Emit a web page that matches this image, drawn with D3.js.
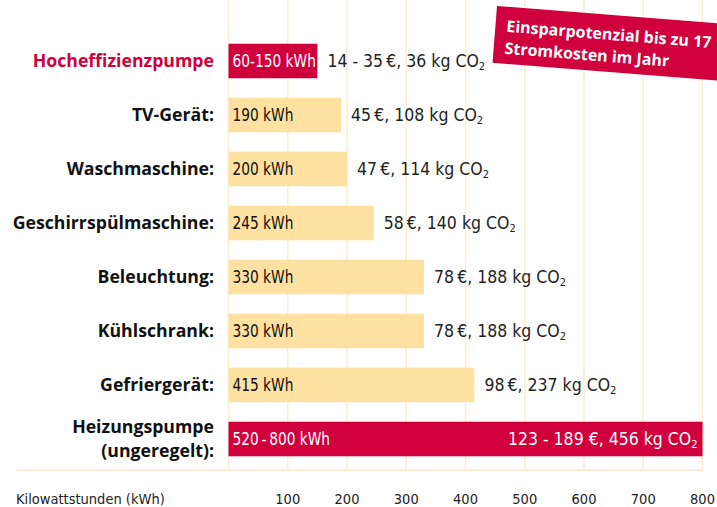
<!DOCTYPE html>
<html>
<head>
<meta charset="utf-8">
<script src="https://cdn.jsdelivr.net/npm/d3@7"></script>
<style>
  body { margin: 0; background: #fff; }
  svg { display: block; }
  .label { font-family: 'Open Sans', 'Noto Sans', sans-serif; font-weight: 700; font-size: 17.7px; }
  .cond { font-family: 'DejaVu Sans Condensed', 'DejaVu Sans', sans-serif; font-size: 17.5px; }
  .inner { font-family: 'DejaVu Sans Condensed', 'DejaVu Sans', sans-serif; font-size: 17px; }
  .tick-label { font-family: 'DejaVu Sans Condensed', 'DejaVu Sans', sans-serif; font-size: 14.5px; fill: #222; }
</style>
</head>
<body>
<svg id="chart"></svg>
<script>
// Stromverbrauch von Haushaltsgeräten pro Jahr (kWh)
const devices = ['Hocheffizienzpumpe', 'TV-Gerät:', 'Waschmaschine:', 'Geschirrspülmaschine:',
  'Beleuchtung:', 'Kühlschrank:', 'Gefriergerät:', 'Heizungspumpe|(ungeregelt):'];
const kwh = [150, 190, 200, 245, 330, 330, 415, 800];
const kwhLabels = ['60-150 kWh', '190 kWh', '200 kWh', '245 kWh', '330 kWh', '330 kWh', '415 kWh', '520\u2009-\u2009800 kWh'];
const costs = ['14 - 35\u2009€', '45\u2009€', '47\u2009€', '58\u2009€', '78\u2009€', '78\u2009€', '98\u2009€', '123 - 189 €'];
const co2 = [36, 108, 114, 140, 188, 188, 237, 456];
const highlight = [true, false, false, false, false, false, false, true];
const ticks = [100, 200, 300, 400, 500, 600, 700, 800];
const bannerLines = ['Einsparpotenzial bis zu 17', 'Stromkosten im Jahr'];

const red = '#d0003c';
const light = '#fee0a0';
const grid = '#fdedd3';

const width = 717;
const height = 507;

const svg = d3.select('#chart')
  .attr('width', width)
  .attr('height', height);

const xScale = d3.scaleLinear()
  .domain([0, 800])
  .range([228.5, 702.5]);

const yScale = d3.scaleBand()
  .domain(d3.range(devices.length))
  .range([34, 466])
  .paddingInner(0.36)
  .paddingOuter(0.18);

const yMid = (i) => yScale(i) + yScale.bandwidth() / 2;

// vertical gridlines
svg.append('g')
  .selectAll('line')
  .data([0, ...ticks])
  .join('line')
  .attr('x1', (d) => xScale(d))
  .attr('x2', (d) => xScale(d))
  .attr('y1', 0)
  .attr('y2', 470)
  .attr('stroke', grid)
  .attr('stroke-width', 1.5);

// baseline
svg.append('line')
  .attr('x1', 16)
  .attr('x2', xScale(800))
  .attr('y1', 470)
  .attr('y2', 470)
  .attr('stroke', grid)
  .attr('stroke-width', 2);

// bars
svg.append('g')
  .selectAll('rect')
  .data(kwh)
  .join('rect')
  .attr('x', xScale(0))
  .attr('y', (d, i) => yScale(i))
  .attr('width', (d) => xScale(d) - xScale(0))
  .attr('height', yScale.bandwidth())
  .attr('fill', (d, i) => (highlight[i] ? red : light));

// category labels, one text per line ('|' splits a label into two lines)
const labelLines = [];
devices.forEach((d, i) => {
  const parts = d.split('|');
  parts.forEach((p, j) => {
    const offset = parts.length === 1 ? 0 : (j - 0.5) * 24;
    labelLines.push({ text: p, row: i, offset });
  });
});

svg.append('g')
  .selectAll('text')
  .data(labelLines)
  .join('text')
  .attr('class', 'label')
  .attr('x', 214)
  .attr('y', (d) => yMid(d.row) + d.offset)
  .attr('dy', '0.36em')
  .attr('text-anchor', 'end')
  .attr('fill', (d) => (d.row === 0 ? red : '#111'))
  .text((d) => d.text);

// kWh labels inside bars (squeezed horizontally like a condensed face)
svg.append('g')
  .selectAll('text')
  .data(kwhLabels)
  .join('text')
  .attr('class', 'inner')
  .attr('transform', (d, i) => `translate(${xScale(0) + 4},${yMid(i)}) scale(0.9,1)`)
  .attr('dy', '0.36em')
  .attr('fill', (d, i) => (highlight[i] ? '#fff' : '#111'))
  .text((d) => d);

// cost / CO2 labels
const last = costs.length - 1;
const costText = svg.append('g')
  .selectAll('text')
  .data(costs)
  .join('text')
  .attr('class', 'cond')
  .attr('y', (d, i) => yMid(i))
  .attr('dy', '0.36em')
  .attr('x', (d, i) => (i === last ? xScale(kwh[i]) - 5 : xScale(kwh[i]) + 10))
  .attr('text-anchor', (d, i) => (i === last ? 'end' : 'start'))
  .attr('fill', (d, i) => (i === last ? '#fff' : '#222'));

costText.append('tspan').text((d, i) => `${d}, ${co2[i]} kg CO`);
costText.append('tspan')
  .attr('font-size', '11px')
  .attr('dy', '0.2em')
  .text('2');

// x tick labels
svg.append('g')
  .selectAll('text')
  .data(ticks)
  .join('text')
  .attr('class', 'tick-label')
  .attr('x', (d) => xScale(d))
  .attr('y', 504)
  .attr('text-anchor', 'middle')
  .text((d) => d);

svg.append('text')
  .attr('class', 'tick-label')
  .attr('x', 16)
  .attr('y', 504)
  .text('Kilowattstunden (kWh)');

// red banner at top right
const banner = svg.append('g')
  .attr('transform', 'translate(497,6) rotate(4.5)');

banner.append('rect')
  .attr('width', 260)
  .attr('height', 57)
  .attr('fill', red);

banner.selectAll('text')
  .data(bannerLines)
  .join('text')
  .attr('x', 11)
  .attr('y', (d, i) => 25 + i * 22)
  .attr('fill', '#fff')
  .attr('font-family', "'Open Sans', 'Noto Sans', sans-serif")
  .attr('font-weight', 700)
  .attr('font-size', 16)
  .text((d) => d);
</script>
</body>
</html>
